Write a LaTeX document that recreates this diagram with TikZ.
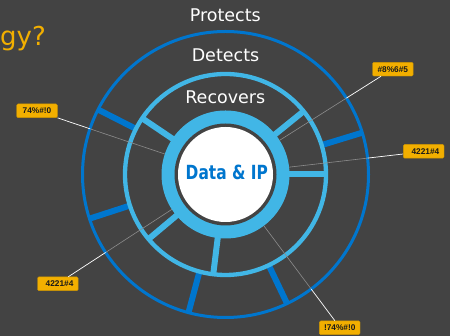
\documentclass[tikz,border=0pt]{standalone}
\usepackage{fontspec}
\setmainfont{DejaVu Sans}
\newfontfamily\labfont{Liberation Sans}
\usetikzlibrary{calc}
\definecolor{bg}{RGB}{67,67,67}
\definecolor{lblue}{RGB}{65,182,230}
\definecolor{dblue}{RGB}{0,118,206}
\definecolor{dyellow}{RGB}{242,175,0}
\definecolor{leadgray}{RGB}{140,140,140}
\begin{document}
\begin{tikzpicture}[x=1pt,y=1pt,
  ringtext/.style={text=white, font=\fontsize{17.5}{20}\selectfont, anchor=base, inner sep=0pt},
  tag/.style={fill=dyellow, draw=dyellow!85!black, line width=0.4pt, rounded corners=1.2pt,
    minimum width=40.6pt, minimum height=13.7pt, inner sep=0pt,
    font=\labfont\bfseries\fontsize{8.3}{9}\selectfont, text=black!90},
  tagright/.style={tag, text width=31.2pt, align=right},
  innerspoke/.style={lblue, line width=6pt},
  outerspoke/.style={dblue, line width=6pt},
  leadin/.style={leadgray, line width=0.6pt},
  leadout/.style={white, line width=0.7pt}]
\fill[bg] (0,0) rectangle (450,336);
\useasboundingbox (0,0) rectangle (450,336);
\coordinate (c) at (225.5,161.5);
% outer ring and spokes
\draw[dblue, line width=3pt] (c) circle (143pt);
\foreach \a in {153,17,198,255,295.5}
  \draw[outerspoke] ($(c)+(\a:100pt)$) -- ($(c)+(\a:142.5pt)$);
\foreach \a in {146,39,0,220,263}
  \draw[innerspoke] ($(c)+(\a:60pt)$) -- ($(c)+(\a:100.5pt)$);
\draw[lblue, line width=4.3pt] (c) circle (100.5pt);
% core
\fill[lblue] (c) circle (64pt);
\fill[bg] (c) circle (51pt);
\fill[white] (c) circle (47.5pt);
% texts
\node[ringtext] (protects) at (225.3,314.3) {Protects};
\node[ringtext] (detects) at (225.5,274) {Detects};
\node[ringtext] (recovers) at (225.3,232) {Recovers};
\node[anchor=base, inner sep=0pt, text=dblue, font=\bfseries\fontsize{19.5}{22}\selectfont] (data) at (226.8,156) {\scalebox{0.79}[1]{Data \& IP}};
\node[anchor=base west, inner sep=0pt, text=dyellow, font=\fontsize{26}{30}\selectfont] (title) at (0,290) {gy?};
% labels
\node[tag] (l1) at (37,225.2) {74\%\#!0};
\node[tag] (l2) at (392.8,266.8) {\#8\%6\#5};
\node[tagright] (l3) at (423.7,184.7) {4221\#4};
\node[tagright] (l4) at (57.8,52.2) {4221\#4};
\node[tag] (l5) at (339.7,8.2) {!74\%\#!0};
\coordinate (s1) at (l1.south east);
\coordinate (s2) at ([xshift=8.7pt]l2.south west);
\coordinate (s3) at ([yshift=-2.7pt]l3.west);
\coordinate (s4) at ([xshift=-10pt]l4.north east);
\coordinate (s5) at ([xshift=15.7pt]l5.north west);
\foreach \s in {s1,s2,s3,s4,s5}{
  \draw[leadin] ($(c)!64pt!(\s)$) -- ($(c)!143pt!(\s)$);
  \draw[leadout] ($(c)!143pt!(\s)$) -- (\s);
}
\end{tikzpicture}
\end{document}
